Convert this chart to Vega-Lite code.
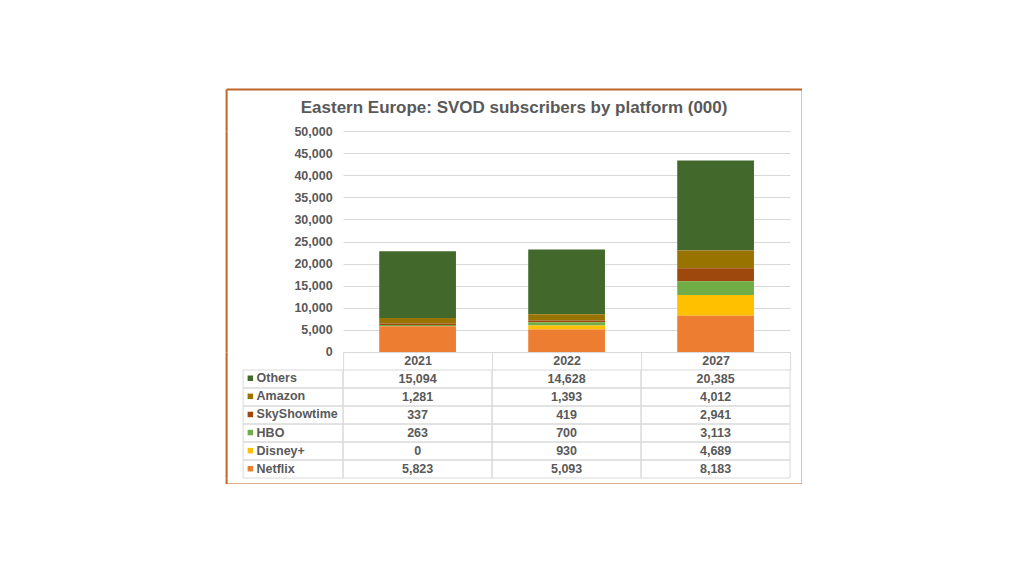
{
  "$schema": "https://vega.github.io/schema/vega-lite/v6.json",
  "background": "white",
  "padding": {"left": 223.1, "top": 89, "right": 0, "bottom": 0},
  "datasets": {
    "subs": [
      {"year": "2021", "platform": "Others", "value": 15094},
      {"year": "2021", "platform": "Amazon", "value": 1281},
      {"year": "2021", "platform": "SkyShowtime", "value": 337},
      {"year": "2021", "platform": "HBO", "value": 263},
      {"year": "2021", "platform": "Disney+", "value": 0},
      {"year": "2021", "platform": "Netflix", "value": 5823},
      {"year": "2022", "platform": "Others", "value": 14628},
      {"year": "2022", "platform": "Amazon", "value": 1393},
      {"year": "2022", "platform": "SkyShowtime", "value": 419},
      {"year": "2022", "platform": "HBO", "value": 700},
      {"year": "2022", "platform": "Disney+", "value": 930},
      {"year": "2022", "platform": "Netflix", "value": 5093},
      {"year": "2027", "platform": "Others", "value": 20385},
      {"year": "2027", "platform": "Amazon", "value": 4012},
      {"year": "2027", "platform": "SkyShowtime", "value": 2941},
      {"year": "2027", "platform": "HBO", "value": 3113},
      {"year": "2027", "platform": "Disney+", "value": 4689},
      {"year": "2027", "platform": "Netflix", "value": 8183}
    ],
    "platforms": [
      {"platform": "Others"},
      {"platform": "Amazon"},
      {"platform": "SkyShowtime"},
      {"platform": "HBO"},
      {"platform": "Disney+"},
      {"platform": "Netflix"}
    ]
  },
  "spacing": 0,
  "bounds": "flush",
  "vconcat": [
    {
      "width": 576,
      "height": 42,
      "data": {"values": [{}]},
      "layer": [
        {
          "mark": {"type": "point", "opacity": 0},
          "encoding": {
            "x": {
              "datum": 0,
              "type": "quantitative",
              "scale": {"domain": [0, 1]},
              "axis": {"orient": "top", "values": [0, 1], "grid": true, "gridColor": "#C0652A", "gridWidth": 2, "gridOpacity": 1, "domain": true, "domainColor": "#C0652A", "domainWidth": 2, "ticks": false, "labels": false, "title": null}
            }
          }
        },
        {
          "mark": {"type": "text", "font": "Liberation Sans", "fontSize": 17, "fontWeight": "bold", "color": "#595959", "baseline": "middle", "dy": -2},
          "encoding": {"text": {"value": "Eastern Europe: SVOD subscribers by platform (000)"}}
        }
      ]
    },
    {
      "columns": 4,
      "spacing": 0,
      "bounds": "flush",
      "resolve": {"scale": {"color": "independent"}, "legend": {"color": "independent"}},
      "concat": [
        {
          "width": 17, "height": 221, "data": {"values": [{}]}, "mark": {"type": "point", "opacity": 0},
          "encoding": {"x": {"datum": 0, "type": "quantitative", "scale": {"domain": [0, 1]}, "axis": {"values": [0], "grid": true, "gridColor": "#C0652A", "gridWidth": 2, "gridOpacity": 1, "domain": false, "ticks": false, "labels": false, "title": null}}}
        },
        {"width": 100, "height": 221, "data": {"values": []}, "mark": "rect", "encoding": {}},
        {
          "width": 447,
          "height": 221,
          "data": {"name": "subs"},
          "transform": [
            {"calculate": "indexof(['Others','Amazon','SkyShowtime','HBO','Disney+','Netflix'], datum.platform)", "as": "rank"}
          ],
          "mark": {"type": "bar", "width": {"band": 0.515}},
          "encoding": {
            "x": {
              "field": "year",
              "type": "nominal",
              "scale": {"paddingInner": 0, "paddingOuter": 0},
              "axis": {
                "title": null,
                "orient": "bottom",
                "labelAngle": 0,
                "tickBand": "extent",
                "tickSize": 18,
                "tickColor": "#d9d9d9",
                "domainColor": "#d9d9d9",
                "labelPadding": -9,
                "labelBaseline": "middle",
                "labelFont": "Liberation Sans",
                "labelFontSize": 12.5,
                "labelFontWeight": "bold",
                "labelColor": "#595959"
              }
            },
            "y": {
              "field": "value",
              "type": "quantitative",
              "stack": "zero",
              "scale": {"domain": [0, 50000]},
              "axis": {
                "title": null,
                "values": [0, 5000, 10000, 15000, 20000, 25000, 30000, 35000, 40000, 45000, 50000],
                "format": ",.0f",
                "domain": false,
                "ticks": false,
                "labelPadding": 11,
                "gridColor": "#d9d9d9",
                "labelFont": "Liberation Sans",
                "labelFontSize": 12.5,
                "labelFontWeight": "bold",
                "labelColor": "#595959"
              }
            },
            "order": {"field": "rank", "type": "quantitative", "sort": "descending"},
            "color": {
              "field": "platform",
              "type": "nominal",
              "sort": ["Others", "Amazon", "SkyShowtime", "HBO", "Disney+", "Netflix"],
              "scale": {
                "domain": ["Others", "Amazon", "SkyShowtime", "HBO", "Disney+", "Netflix"],
                "range": ["#43682B", "#997300", "#9E480E", "#70AD47", "#FFC000", "#ED7D31"]
              },
              "legend": {
                "orient": "none",
                "legendX": -99,
                "legendY": 241,
                "title": null,
                "padding": 0,
                "symbolType": "square",
                "symbolSize": 30,
                "symbolStrokeWidth": 0,
                "rowPadding": 5.1,
                "labelOffset": 0,
                "labelFont": "Liberation Sans",
                "labelFontSize": 12.5,
                "labelFontWeight": "bold",
                "labelColor": "#595959"
              }
            }
          }
        },
        {
          "width": 12, "height": 221, "data": {"values": [{}]}, "mark": {"type": "point", "opacity": 0},
          "encoding": {"x": {"datum": 0, "type": "quantitative", "scale": {"domain": [0, 1]}, "axis": {"values": [1], "grid": true, "gridColor": "#C0652A", "gridWidth": 2, "gridOpacity": 1, "domain": false, "ticks": false, "labels": false, "title": null}}}
        },
        {
          "width": 17, "height": 126, "data": {"values": [{}]}, "mark": {"type": "point", "opacity": 0},
          "encoding": {"x": {"datum": 0, "type": "quantitative", "scale": {"domain": [0, 1]}, "axis": {"values": [0], "grid": true, "gridColor": "#C0652A", "gridWidth": 2, "gridOpacity": 1, "domain": false, "ticks": false, "labels": false, "title": null}}}
        },
        {
          "width": 100,
          "height": 126,
          "data": {"name": "platforms"},
          "mark": {"type": "rect", "fill": "transparent", "stroke": "#d9d9d9", "strokeWidth": 1},
          "encoding": {
            "y": {
              "field": "platform",
              "type": "nominal",
              "scale": {"domain": ["hdr", "Others", "Amazon", "SkyShowtime", "HBO", "Disney+", "Netflix"], "paddingInner": 0, "paddingOuter": 0},
              "axis": null
            }
          }
        },
        {
          "width": 447,
          "height": 126,
          "data": {"name": "subs"},
          "encoding": {
            "x": {
              "field": "year",
              "type": "nominal",
              "scale": {"paddingInner": 0, "paddingOuter": 0},
              "axis": null
            },
            "y": {
              "field": "platform",
              "type": "nominal",
              "scale": {"domain": ["hdr", "Others", "Amazon", "SkyShowtime", "HBO", "Disney+", "Netflix"], "paddingInner": 0, "paddingOuter": 0},
              "axis": null
            }
          },
          "layer": [
            {"mark": {"type": "rect", "fill": "transparent", "stroke": "#d9d9d9", "strokeWidth": 1}},
            {
              "mark": {"type": "text", "font": "Liberation Sans", "fontSize": 12.5, "fontWeight": "bold", "color": "#595959"},
              "encoding": {"text": {"field": "value", "type": "quantitative", "format": ",.0f"}}
            }
          ]
        },
        {
          "width": 12, "height": 126, "data": {"values": [{}]}, "mark": {"type": "point", "opacity": 0},
          "encoding": {"x": {"datum": 0, "type": "quantitative", "scale": {"domain": [0, 1]}, "axis": {"values": [1], "grid": true, "gridColor": "#C0652A", "gridWidth": 2, "gridOpacity": 1, "domain": false, "ticks": false, "labels": false, "title": null}}}
        },
        {
          "width": 17, "height": 6, "data": {"values": [{}]}, "mark": {"type": "point", "opacity": 0},
          "encoding": {"x": {"datum": 0, "type": "quantitative", "scale": {"domain": [0, 1]}, "axis": {"orient": "bottom", "values": [0], "grid": true, "gridColor": "#C0652A", "gridWidth": 2, "gridOpacity": 1, "domain": true, "domainColor": "#C0652A", "domainWidth": 2, "ticks": false, "labels": false, "title": null}}}
        },
        {
          "width": 100, "height": 6, "data": {"values": [{}]}, "mark": {"type": "point", "opacity": 0},
          "encoding": {"x": {"datum": 0, "type": "quantitative", "scale": {"domain": [0, 1]}, "axis": {"orient": "bottom", "values": [0], "grid": false, "domain": true, "domainColor": "#C0652A", "domainWidth": 2, "ticks": false, "labels": false, "title": null}}}
        },
        {
          "width": 447, "height": 6, "data": {"values": [{}]}, "mark": {"type": "point", "opacity": 0},
          "encoding": {"x": {"datum": 0, "type": "quantitative", "scale": {"domain": [0, 1]}, "axis": {"orient": "bottom", "values": [0], "grid": false, "domain": true, "domainColor": "#C0652A", "domainWidth": 2, "ticks": false, "labels": false, "title": null}}}
        },
        {
          "width": 12, "height": 6, "data": {"values": [{}]}, "mark": {"type": "point", "opacity": 0},
          "encoding": {"x": {"datum": 0, "type": "quantitative", "scale": {"domain": [0, 1]}, "axis": {"orient": "bottom", "values": [1], "grid": true, "gridColor": "#C0652A", "gridWidth": 2, "gridOpacity": 1, "domain": true, "domainColor": "#C0652A", "domainWidth": 2, "ticks": false, "labels": false, "title": null}}}
        }
      ]
    }
  ],
  "config": {
    "view": {"stroke": null},
    "font": "Liberation Sans"
  }
}
